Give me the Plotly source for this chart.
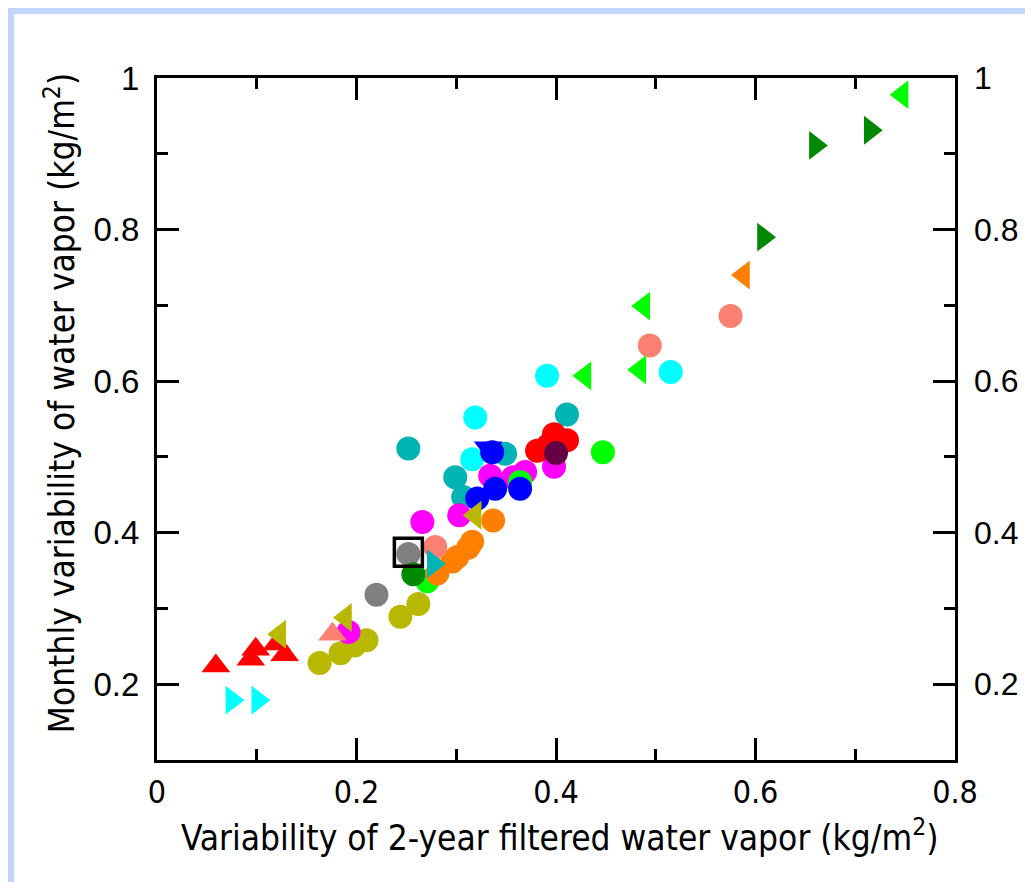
import plotly.graph_objects as go

# ---------------- data ----------------
olive_circ_x = [0.163, 0.184, 0.198, 0.210, 0.244, 0.262]
olive_circ_y = [0.228, 0.241, 0.251, 0.258, 0.289, 0.306]

gray_circ_x = [0.220, 0.252]
gray_circ_y = [0.318, 0.372]

teal_circ_x = [0.252, 0.299, 0.307, 0.349, 0.411]
teal_circ_y = [0.511, 0.473, 0.447, 0.504, 0.556]

cyan_circ_x = [0.319, 0.316, 0.391, 0.515]
cyan_circ_y = [0.552, 0.497, 0.607, 0.612]

magenta_circ_x = [0.192, 0.266, 0.303, 0.334, 0.357, 0.369, 0.398]
magenta_circ_y = [0.269, 0.414, 0.423, 0.475, 0.473, 0.480, 0.487]

lime_circ_x = [0.271, 0.364, 0.447]
lime_circ_y = [0.336, 0.467, 0.506]

dkgreen_circ_x = [0.257]
dkgreen_circ_y = [0.345]

orange_circ_x = [0.281, 0.296, 0.301, 0.312, 0.316, 0.337]
orange_circ_y = [0.346, 0.362, 0.368, 0.380, 0.388, 0.416]

salmon_circ_x = [0.279, 0.494, 0.575]
salmon_circ_y = [0.381, 0.647, 0.686]

teal_tri_r_x = [0.277]
teal_tri_r_y = [0.359]

blue_tri_d_x = [0.332]
blue_tri_d_y = [0.512]

blue_circ_x = [0.336, 0.321, 0.339, 0.364]
blue_circ_y = [0.506, 0.445, 0.458, 0.458]

red_circ_x = [0.381, 0.392, 0.398, 0.411]
red_circ_y = [0.508, 0.515, 0.530, 0.522]

maroon_circ_x = [0.400]
maroon_circ_y = [0.505]

red_tri_u_x = [0.059, 0.094, 0.099, 0.120, 0.128]
red_tri_u_y = [0.224, 0.233, 0.246, 0.253, 0.239]

cyan_tri_r_x = [0.075, 0.101]
cyan_tri_r_y = [0.179, 0.179]

salmon_tri_u_x = [0.176]
salmon_tri_u_y = [0.266]

olive_tri_l_x = [0.123, 0.189, 0.319]
olive_tri_l_y = [0.266, 0.288, 0.423]

lime_tri_l_x = [0.429, 0.484, 0.488, 0.747]
lime_tri_l_y = [0.607, 0.615, 0.699, 0.978]

orange_tri_l_x = [0.588]
orange_tri_l_y = [0.740]

dkgreen_tri_r_x = [0.608, 0.660, 0.715]
dkgreen_tri_r_y = [0.790, 0.911, 0.931]

ref_x = 0.252
ref_y = 0.374

x_ticks = [0, 0.2, 0.4, 0.6, 0.8]
x_ticklabels = ["0", "0.2", "0.4", "0.6", "0.8"]
y_ticks = [0.2, 0.4, 0.6, 0.8, 1.0]
y_ticklabels = ["0.2", "0.4", "0.6", "0.8", "1"]

x_title = "Variability of 2-year filtered water vapor (kg/m<sup>2</sup>)"
y_title = "Monthly variability of water vapor (kg/m<sup>2</sup>)"

# ---------------- styling ----------------
CIRC = 24
TRI = 25
series = [
    (olive_circ_x, olive_circ_y, "#b8b800", "circle", CIRC),
    (gray_circ_x, gray_circ_y, "#808080", "circle", CIRC),
    (teal_circ_x, teal_circ_y, "#00b4b4", "circle", CIRC),
    (cyan_circ_x, cyan_circ_y, "#00ffff", "circle", CIRC),
    (magenta_circ_x, magenta_circ_y, "#ff00ff", "circle", CIRC),
    (lime_circ_x, lime_circ_y, "#00ff00", "circle", CIRC),
    (dkgreen_circ_x, dkgreen_circ_y, "#008800", "circle", CIRC),
    (orange_circ_x, orange_circ_y, "#ff8000", "circle", CIRC),
    (salmon_circ_x, salmon_circ_y, "#fa8072", "circle", CIRC),
    (teal_tri_r_x, teal_tri_r_y, "#00b4b4", "triangle-right", TRI),
    (blue_tri_d_x, blue_tri_d_y, "#0000ff", "triangle-down", TRI),
    (blue_circ_x, blue_circ_y, "#0000ff", "circle", CIRC),
    (red_circ_x, red_circ_y, "#ff0000", "circle", CIRC),
    (maroon_circ_x, maroon_circ_y, "#660044", "circle", CIRC),
    (red_tri_u_x, red_tri_u_y, "#ff0000", "triangle-up", TRI),
    (cyan_tri_r_x, cyan_tri_r_y, "#00ffff", "triangle-right", TRI),
    (salmon_tri_u_x, salmon_tri_u_y, "#fa8072", "triangle-up", TRI),
    (olive_tri_l_x, olive_tri_l_y, "#b8b800", "triangle-left", TRI),
    (lime_tri_l_x, lime_tri_l_y, "#00ff00", "triangle-left", TRI),
    (orange_tri_l_x, orange_tri_l_y, "#ff8000", "triangle-left", TRI),
    (dkgreen_tri_r_x, dkgreen_tri_r_y, "#008800", "triangle-right", TRI),
]

fig = go.Figure()
for xs, ys, col, sym, sz in series:
    fig.add_trace(go.Scatter(
        x=xs, y=ys, mode="markers", showlegend=False, hoverinfo="skip",
        marker=dict(color=col, symbol=sym, size=sz, line=dict(width=0)),
    ))

# reference square (on the right-hand y axis, identical range)
fig.add_trace(go.Scatter(
    x=[ref_x], y=[ref_y], mode="markers", showlegend=False, hoverinfo="skip",
    yaxis="y2",
    marker=dict(symbol="square-open", size=28, color="black", line=dict(width=3.5, color="black")),
))

fig.add_vline(x=ref_x, line=dict(color="black", width=2.5, dash="12px,7px"))
fig.add_hline(y=ref_y, line=dict(color="black", width=2.5, dash="12px,7px"))

NARROW = "DejaVu Sans Condensed, Liberation Sans Narrow, sans-serif"
REG = "Liberation Sans, Arial, Helvetica, sans-serif"

axis_common = dict(
    showgrid=False, zeroline=False, showline=True, linecolor="black", linewidth=3,
    ticks="inside", ticklen=22, tickwidth=2.5, tickcolor="black",
)

fig.update_layout(
    width=1025, height=874,
    margin=dict(l=149, r=78, t=70, b=122),
    paper_bgcolor="white", plot_bgcolor="white",
    xaxis=dict(
        range=[0, 0.8], tickvals=x_ticks, ticktext=x_ticklabels, mirror="ticks",
        tickfont=dict(family=NARROW, size=32, color="black"),
        minor=dict(ticks="inside", ticklen=11, tickwidth=2.5, tickcolor="black", dtick=0.1, showgrid=False),
        ticklabelstandoff=2,
        **axis_common,
    ),
    yaxis=dict(
        range=[0.1, 1.0], tickvals=y_ticks, ticktext=y_ticklabels, mirror="ticks",
        tickfont=dict(family=REG, size=33, color="black"),
        minor=dict(ticks="inside", ticklen=11, tickwidth=2.5, tickcolor="black", dtick=0.1, tick0=0.1, showgrid=False),
        ticklabelstandoff=8,
        **axis_common,
    ),
    yaxis2=dict(
        range=[0.1, 1.0], tickvals=y_ticks, ticktext=y_ticklabels, overlaying="y", side="right",
        showgrid=False, zeroline=False, showline=False, ticks="",
        tickfont=dict(family=REG, size=32, color="black"),
        ticklabelstandoff=18,
    ),
    annotations=[
        dict(text=x_title, xref="paper", yref="paper", x=0.505, y=-0.11,
             showarrow=False, xanchor="center", yanchor="middle",
             font=dict(family=NARROW, size=35, color="black")),
        dict(text=y_title, xref="paper", yref="paper", x=-0.1216, y=0.523,
             showarrow=False, xanchor="center", yanchor="middle", textangle=-90,
             font=dict(family=NARROW, size=35, color="black")),
    ],
    shapes=[
        dict(type="rect", xref="paper", yref="paper", layer="below",
             x0=-0.1867, x1=-0.1792, y0=-0.179, y1=1.1026,
             fillcolor="#c3d5fb", line=dict(width=0)),
        dict(type="rect", xref="paper", yref="paper", layer="below",
             x0=-0.1867, x1=1.0977, y0=1.0938, y1=1.1026,
             fillcolor="#c3d5fb", line=dict(width=0)),
    ],
)

fig.write_html("out.html")
